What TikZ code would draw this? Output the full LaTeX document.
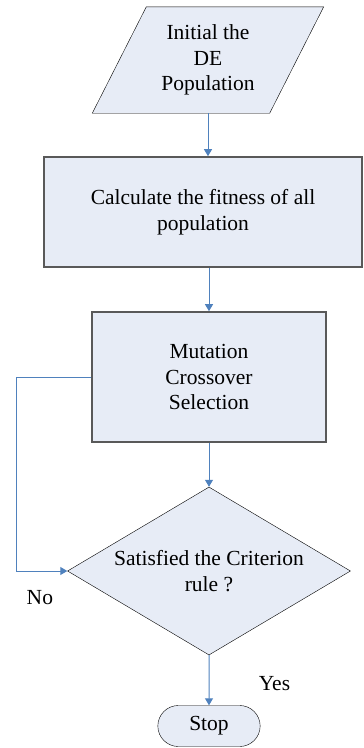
\documentclass[tikz,border=0pt]{standalone}
\usepackage{fontspec}
\setmainfont{Liberation Serif}
\usetikzlibrary{arrows.meta,shapes,positioning,backgrounds}

\definecolor{boxfill}{RGB}{231,236,246}
\definecolor{flowblue}{RGB}{79,129,189}

\begin{document}
\begin{tikzpicture}[node distance=150pt,>={Triangle[length=7pt,width=8pt]}]

  \tikzstyle{every node}=[font=\fontsize{21.5pt}{25.5pt}\selectfont]
  \tikzstyle{io}=[rectangle,align=center,minimum width=177pt,minimum height=106pt]
  \tikzstyle{process}=[rectangle,draw=black!65,line width=1.6pt,fill=boxfill,align=center]
  \tikzstyle{decision}=[diamond,aspect=1.68,draw=black,fill=boxfill,inner sep=0pt,
                        minimum width=283pt,minimum height=168pt,align=center]
  \tikzstyle{terminal}=[rounded rectangle,draw=black,fill=boxfill,
                        minimum width=109pt,minimum height=41pt]
  \tikzstyle{flow}=[->,draw=flowblue,line width=1pt]

  \useasboundingbox (0,0) rectangle (364pt,-748pt);

  % main column
  \node [io] (init) at (208pt,-60pt) {Initial the\\DE\\Population};
  \node [process,minimum width=318pt,minimum height=110pt] (fit)
        [node distance=152pt,below of=init,xshift=-5pt] {Calculate the fitness of all\\population};
  \node [process,minimum width=234pt,minimum height=130pt] (mcs)
        [node distance=165pt,below of=fit,xshift=6pt] {Mutation\\Crossover\\Selection};
  \node [decision] (check) [node distance=194pt,below of=mcs] {Satisfied the Criterion\\rule ?};
  \node [terminal] (stop) [node distance=155pt,below of=check] {Stop};

  \draw [flow] (init) -- (init |- fit.north);
  \draw [flow] (fit.south -| mcs) -- (mcs);
  \draw [flow] (mcs) -- (check);
  \draw [flow] (check) -- (stop)
    node [midway,right=46pt,yshift=-3.5pt] {Yes};

  % loop back
  \draw [flow] (mcs.west) -- ++(-75pt,0) |- (check.west)
    node [pos=.5,below right=15.7pt and 6.7pt] {No};

  \begin{pgfonlayer}{background}
    \filldraw [draw=black,fill=boxfill]
      ([xshift=27pt]init.north west) -- ([xshift=27pt]init.north east)
      -- ([xshift=-27pt]init.south east) -- ([xshift=-27pt]init.south west) -- cycle;
  \end{pgfonlayer}
\end{tikzpicture}
\end{document}
